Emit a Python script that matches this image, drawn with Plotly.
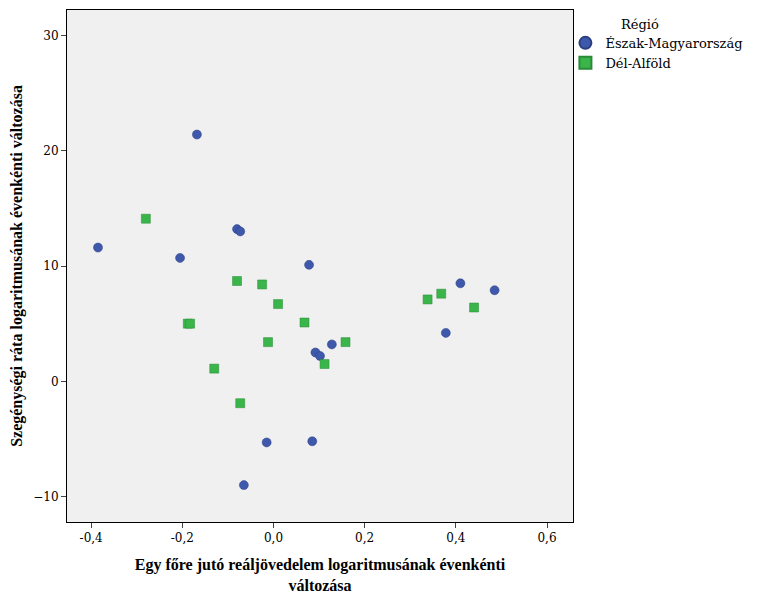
import plotly.graph_objects as go

north_x = [-0.385,-0.168,-0.205,-0.08,-0.073,0.078,0.41,0.485,0.378,0.128,0.092,0.102,-0.015,0.085,-0.065]
north_y = [11.6,21.4,10.7,13.2,13.0,10.1,8.5,7.9,4.2,3.2,2.5,2.2,-5.3,-5.2,-9.0]
south_x = [-0.28,-0.08,-0.025,0.01,0.068,-0.188,-0.183,-0.012,0.158,0.112,-0.13,-0.073,0.338,0.368,0.44]
south_y = [14.1,8.7,8.4,6.7,5.1,5.0,5.0,3.4,3.4,1.5,1.1,-1.9,7.1,7.6,6.4]
x_ticks = [-0.4,-0.2,0.0,0.2,0.4,0.6]
x_labels = ["-0,4","-0,2","0,0","0,2","0,4","0,6"]
y_ticks = [-10,0,10,20,30]

F = "Liberation Serif, Times New Roman, serif"
R = "DejaVu Serif"
fig = go.Figure()
fig.add_trace(go.Scatter(x=north_x, y=north_y, mode="markers", name="Észak-Magyarország",
    marker=dict(symbol="circle", size=9, color="#3e58ac", line=dict(width=0.5, color="#2a3f80"))))
fig.add_trace(go.Scatter(x=south_x, y=south_y, mode="markers", name="Dél-Alföld",
    marker=dict(symbol="square", size=9, color="#3ab54a", line=dict(width=0.5, color="#2a8a38"))))
fig.update_layout(
    width=750, height=595, margin=dict(l=59, r=185, t=2, b=81),
    paper_bgcolor="white", plot_bgcolor="#f0f0f0",
    font=dict(family=R, size=12, color="black"),
    legend=dict(x=0.985, y=0.965, xanchor="left", yanchor="top", tracegroupgap=0,
                font=dict(family=R, size=13), itemsizing="constant", bgcolor="rgba(0,0,0,0)"),
    annotations=[dict(text="Régió", x=1.09, y=0.99, xref="paper", yref="paper", showarrow=False,
                      xanchor="left", yanchor="top", font=dict(family=R, size=13))],
    xaxis=dict(range=[-0.453,0.657], tickvals=x_ticks, ticktext=x_labels, showgrid=False, zeroline=False,
               showline=True, linecolor="black", mirror=True, ticks="outside", ticklen=5, automargin=False,
               tickfont=dict(family=R, size=12),
               title=dict(text="<b>Egy főre jutó reáljövedelem logaritmusának évenkénti<br>változása</b>", font=dict(family=F, size=16), standoff=14)),
    yaxis=dict(range=[-12.2,32.2], tickvals=y_ticks, showgrid=False, zeroline=False,
               showline=True, linecolor="black", mirror=True, ticks="outside", ticklen=5, automargin=False,
               tickfont=dict(family=R, size=12),
               title=dict(text="<b>Szegénységi ráta logaritmusának évenkénti változása</b>", font=dict(family=F, size=16), standoff=8)),
)
fig.write_html("out.html")
